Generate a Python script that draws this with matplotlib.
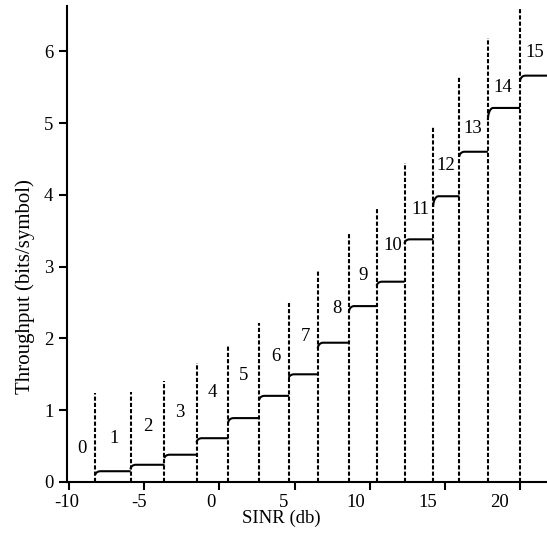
import numpy as np
import matplotlib
matplotlib.use("Agg")
import matplotlib.pyplot as plt

plt.rcParams['font.family'] = ['Liberation Serif', 'DejaVu Serif']

# ---- data ----
mcs_labels = [str(i) for i in range(16)]
# SINR switching thresholds (dB) between MCS k-1 and k, k = 1..15
thresholds = [-8.24, -5.90, -3.65, -1.51, 0.60, 2.66, 4.63, 6.55, 8.62,
              10.47, 12.32, 14.22, 15.96, 17.86, 20.00]
# throughput level (bits/symbol) for MCS 1..15
levels = [0.15, 0.24, 0.38, 0.61, 0.89, 1.20, 1.50, 1.94, 2.45,
          2.79, 3.38, 3.98, 4.60, 5.21, 5.66]
# small dip at the start of each step (bits/symbol)
dips = [0.05, 0.06, 0.05, 0.06, 0.06, 0.056, 0.05, 0.08, 0.08,
        0.06, 0.06, 0.15, 0.07, 0.17, 0.08]
# height of each dashed threshold line
dash_tops = [1.24, 1.25, 1.41, 1.66, 1.89, 2.21, 2.50, 2.95, 3.48,
             3.80, 4.45, 4.96, 5.64, 6.19, 6.61]
# MCS label anchor points (x in dB, y in bits/symbol)
label_x = [-9.12, -7.02, -4.75, -2.61, -0.45, 1.62, 3.74, 5.72, 7.80,
           9.56, 11.51, 13.38, 15.04, 16.87, 18.86, 20.98]
label_y = [0.47, 0.60, 0.77, 0.97, 1.24, 1.49, 1.75, 2.02, 2.42,
           2.88, 3.30, 3.80, 4.41, 4.93, 5.50, 5.98]
x_ticks = [-10, -5, 0, 5, 10, 15, 20]
y_ticks = [0, 1, 2, 3, 4, 5, 6]

x_min, x_max = -10, 21.79
y_min, y_max = 0, 6.63

fig = plt.figure(figsize=(5.47, 5.37), dpi=100)
ax = fig.add_axes([66.7 / 547, 55 / 537, 480.3 / 547, 476 / 537])
ax.set_xlim(x_min, x_max)
ax.set_ylim(y_min, y_max)

# dashed threshold lines
for t, top in zip(thresholds, dash_tops):
    ax.plot([t, t], [0, top], color='black', lw=1.5,
            linestyle=(0, (2.0, 1.0)), zorder=2)

# step curves
ends = thresholds[1:] + [x_max]
w = 0.35
tt = np.linspace(0, np.pi / 2, 20)
for start, end, lev, dip in zip(thresholds, ends, levels, dips):
    cx = start + w * (1 - np.cos(tt))
    cy = lev - dip + dip * np.sin(tt)
    xs = np.concatenate([cx, [end]])
    ys = np.concatenate([cy, [lev]])
    ax.plot(xs, ys, color='black', lw=1.5, solid_capstyle='butt', zorder=3)

# MCS labels
for lab, lx, ly in zip(mcs_labels, label_x, label_y):
    ax.text(lx, ly, lab, fontsize=13.5, ha='center', va='center')

# spines
for s in ['top', 'right']:
    ax.spines[s].set_visible(False)
for s in ['left', 'bottom']:
    ax.spines[s].set_linewidth(1.5)

# ticks: marks at true positions, labels slightly shifted as in the reference
ax.set_xticks(x_ticks, labels=[''] * len(x_ticks))
ax.set_xticks([v * 0.96 - 0.55 for v in x_ticks],
              labels=[str(v) for v in x_ticks], minor=True)
ax.tick_params(axis='x', which='major', direction='out', length=6, width=1.5)
ax.tick_params(axis='x', which='minor', length=0, pad=8.8, labelsize=13.5)
ax.set_yticks(y_ticks, labels=[str(v) for v in y_ticks])
ax.tick_params(axis='y', which='major', direction='out', length=6, width=1.5,
               pad=3.6, labelsize=13.5)

ax.set_xlabel('SINR (db)', fontsize=13.5)
ax.xaxis.set_label_coords(0.446, -0.058)
ax.set_ylabel('Throughput (bits/symbol)', fontsize=15)
ax.yaxis.set_label_coords(-0.067, 0.41)

fig.savefig('out.png', dpi=100)
